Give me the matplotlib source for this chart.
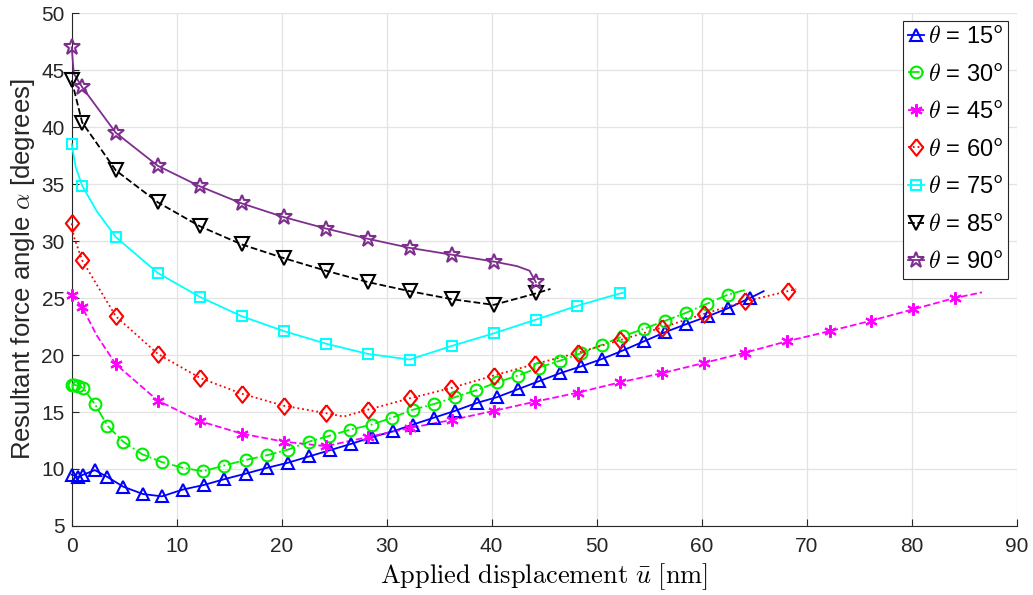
import matplotlib
matplotlib.use("Agg")
import matplotlib.pyplot as plt
import numpy as np

plt.rcParams['font.family'] = ['Liberation Sans', 'DejaVu Sans']
plt.rcParams['mathtext.fontset'] = 'cm'

# ---- data ----
x15 = [0, 0.6, 1.1, 2.2, 3.4, 4.9, 6.8, 8.6, 10.6, 12.6, 14.5, 16.6, 18.6, 20.6, 22.6, 24.6, 26.6, 28.6,
       30.6, 32.5, 34.5, 36.5, 38.6, 40.5, 42.5, 44.5, 46.5, 48.5, 50.5, 52.5, 54.5, 56.5, 58.5, 60.6, 62.5, 64.6]
y15 = [9.5, 9.3, 9.5, 9.9, 9.3, 8.45, 7.8, 7.6, 8.2, 8.6, 9.1, 9.6, 10.1, 10.55, 11.1, 11.65, 12.2, 12.8,
       13.3, 13.9, 14.5, 15.1, 15.8, 16.3, 17.0, 17.7, 18.4, 19.0, 19.65, 20.4, 21.2, 22.0, 22.7, 23.4, 24.1, 25.0]
x15_line_extra = [65.9]
y15_line_extra = [25.6]

x30 = [0, 0.2, 0.6, 1.1, 2.2, 3.4, 4.9, 6.7, 8.6, 10.6, 12.5, 14.5, 16.6, 18.6, 20.6, 22.6, 24.5, 26.5,
       28.6, 30.5, 32.5, 34.5, 36.5, 38.5, 40.5, 42.5, 44.5, 46.5, 48.5, 50.5, 52.5, 54.5, 56.5, 58.5, 60.5, 62.5]
y30 = [17.4, 17.4, 17.3, 17.1, 15.7, 13.8, 12.4, 11.3, 10.6, 10.1, 9.8, 10.3, 10.8, 11.2, 11.7, 12.4, 12.9, 13.45,
       13.9, 14.5, 15.2, 15.7, 16.3, 16.9, 17.6, 18.2, 18.9, 19.5, 20.15, 20.9, 21.65, 22.3, 23.0, 23.7, 24.5, 25.3]
x30_line_extra = [64.1]
y30_line_extra = [25.7]

x45 = [0, 1.0, 4.2, 8.2, 12.2, 16.2, 20.2, 24.2, 28.2, 32.2, 36.2, 40.2, 44.1, 48.2, 52.2, 56.2, 60.2,
       64.1, 68.1, 72.2, 76.1, 80.1, 84.1]
y45 = [25.3, 24.2, 19.2, 16.0, 14.2, 13.1, 12.4, 12.0, 12.8, 13.6, 14.3, 15.1, 15.9, 16.7, 17.6, 18.4, 19.3,
       20.2, 21.2, 22.1, 23.0, 24.0, 25.0]
x45_line_extra = [2.4, 86.7]
y45_line_extra = [21.7, 25.5]

x60 = [0, 1.0, 4.2, 8.2, 12.2, 16.2, 20.2, 24.2, 28.2, 32.2, 36.1, 40.2, 44.1, 48.2, 52.2, 56.2, 60.2, 64.1, 68.2]
y60 = [31.55, 28.3, 23.4, 20.1, 18.0, 16.6, 15.55, 14.9, 15.2, 16.2, 17.1, 18.2, 19.2, 20.2, 21.3, 22.4, 23.6, 24.7, 25.6]
x60_line_extra = [0.2, 25.9, 69.0]
y60_line_extra = [30.4, 14.6, 25.8]

x75 = [0, 1.0, 4.2, 8.2, 12.2, 16.2, 20.2, 24.2, 28.2, 32.2, 36.2, 40.2, 44.2, 48.1, 52.2]
y75 = [38.5, 34.85, 30.35, 27.2, 25.1, 23.4, 22.1, 21.0, 20.1, 19.6, 20.8, 21.9, 23.1, 24.3, 25.4]
x75_line_extra = [0.38, 2.4, 52.7]
y75_line_extra = [36.5, 32.6, 25.5]

x85 = [0, 1.0, 4.2, 8.2, 12.2, 16.2, 20.2, 24.2, 28.2, 32.2, 36.2, 40.2, 44.2]
y85 = [44.1, 40.4, 36.2, 33.4, 31.3, 29.7, 28.5, 27.4, 26.4, 25.6, 24.9, 24.4, 25.4]
x85_line_extra = [45.6]
y85_line_extra = [25.8]

x90 = [0, 1.0, 4.2, 8.2, 12.2, 16.2, 20.2, 24.2, 28.2, 32.2, 36.2, 40.2, 44.2]
y90 = [47.0, 43.5, 39.5, 36.6, 34.8, 33.3, 32.1, 31.1, 30.2, 29.4, 28.8, 28.2, 26.4]
x90_line_extra = [0.2, 42.4, 43.6]
y90_line_extra = [44.7, 27.8, 27.4]

thetas = [15, 30, 45, 60, 75, 85, 90]
x_ticks = [0, 10, 20, 30, 40, 50, 60, 70, 80, 90]
y_ticks = [5, 10, 15, 20, 25, 30, 35, 40, 45, 50]

diamond = [(0, 1), (0.8, 0), (0, -1), (-0.8, 0), (0, 1)]

series = [
    (x15, y15, x15_line_extra, y15_line_extra, dict(color='#0000FF', ls='-', marker='^', ms=9)),
    (x30, y30, x30_line_extra, y30_line_extra, dict(color='#00EE00', ls='-.', marker='o', ms=8.5)),
    (x45, y45, x45_line_extra, y45_line_extra, dict(color='#FF00FF', ls='--', marker=(6, 2, 0), ms=9)),
    (x60, y60, x60_line_extra, y60_line_extra, dict(color='#FF0000', ls=':', marker=diamond, ms=12)),
    (x75, y75, x75_line_extra, y75_line_extra, dict(color='#00FFFF', ls='-', marker='s', ms=6.5)),
    (x85, y85, x85_line_extra, y85_line_extra, dict(color='#000000', ls='--', marker='v', ms=9.5)),
    (x90, y90, x90_line_extra, y90_line_extra, dict(color='#7E2F8E', ls='-', marker='*', ms=12)),
]

fig = plt.figure(figsize=(10.33, 5.95), dpi=100)
ax = fig.add_axes([0.0694, 0.116, 0.9148, 0.862])

handles = []
for (xm, ym, xe, ye, st), th in zip(series, thetas):
    xl = np.array(list(xm) + list(xe))
    yl = np.array(list(ym) + list(ye))
    order = np.argsort(xl, kind='stable')
    ax.plot(xl[order], yl[order], color=st['color'], ls=st['ls'], lw=1.3, clip_on=False, zorder=3)
    ax.plot(xm, ym, ls='none', marker=st['marker'], ms=st['ms'], mec=st['color'], mfc='none',
            mew=1.5, clip_on=False, zorder=4)
    h, = ax.plot([], [], color=st['color'], ls=st['ls'], lw=1.3, marker=st['marker'],
                 ms=st['ms'], mec=st['color'], mfc='none', mew=1.5)
    handles.append(h)

labels = [r'$\theta$ = %d$^{\mathsf{o}}$' % t for t in thetas]
leg = ax.legend(handles, labels, loc='upper right', bbox_to_anchor=(0.991, 0.985),
                fontsize=17, handlelength=0.7, handletextpad=0.15, labelspacing=0.66,
                borderpad=0.22, borderaxespad=0.0, fancybox=False, framealpha=1,
                edgecolor='#262626')
leg.get_frame().set_linewidth(0.8)
leg.set_zorder(10)

ax.set_xlim(0, 90)
ax.set_ylim(5, 50)
ax.set_xticks(x_ticks)
ax.set_yticks(y_ticks)
ax.tick_params(direction='in', length=5, width=0.8, color='#262626', labelsize=15,
               labelcolor='#262626')
ax.tick_params(axis='x', pad=8)
ax.tick_params(axis='y', pad=5)
ax.grid(True, color='#E3E3E3', lw=0.9)
ax.set_axisbelow(True)
for s in ['top', 'right']:
    ax.spines[s].set_visible(False)
for s in ['left', 'bottom']:
    ax.spines[s].set_color('#262626')
    ax.spines[s].set_linewidth(0.8)

ax.set_xlabel(r'$\mathrm{Applied\ displacement}\ \bar{u}\ \mathrm{[nm]}$', fontsize=19, labelpad=4)
ax.set_ylabel(r'Resultant force angle $\alpha$ [degrees]', fontsize=18.5, color='#262626', labelpad=3)

fig.savefig('out.png', dpi=100)
